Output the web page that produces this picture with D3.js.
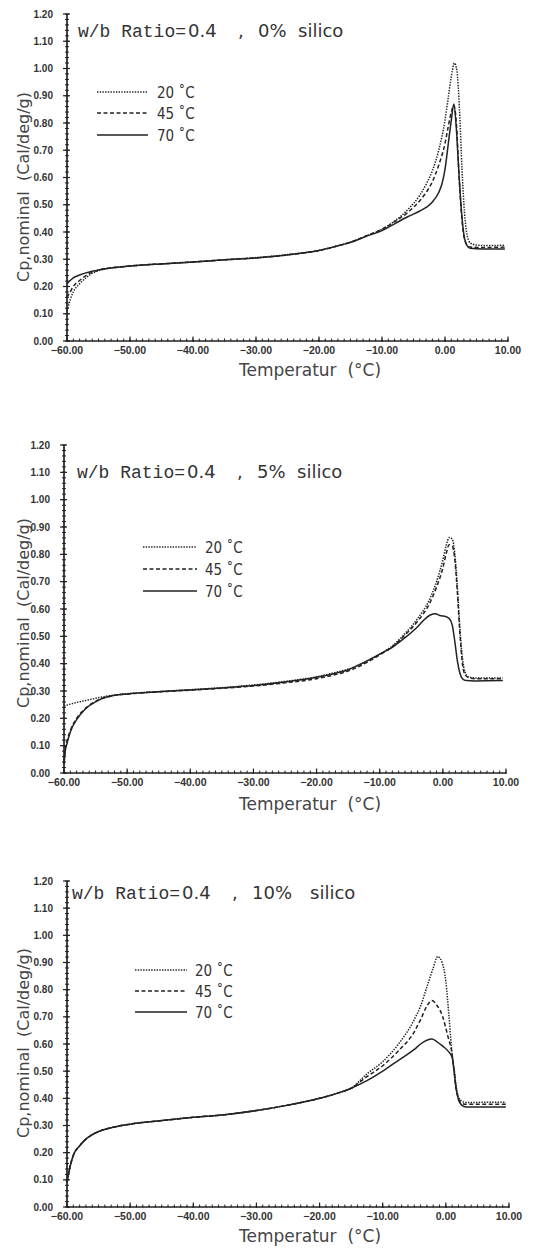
<!DOCTYPE html>
<html><head><meta charset="utf-8">
<script src="https://cdn.jsdelivr.net/npm/d3@7"></script>
<style>body{margin:0;background:#fff}svg{display:block}</style>
</head><body>
<svg id="c" width="544" height="1249"></svg>
<script>
// ---------- data ----------
const xTicks = [-60, -50, -40, -30, -20, -10, 0, 10];
const yTicks = [0, 0.1, 0.2, 0.3, 0.4, 0.5, 0.6, 0.7, 0.8, 0.9, 1.0, 1.1, 1.2];
const seriesLabels = ["20 ˚C", "45 ˚C", "70 ˚C"];
const silicaContent = ["0%", "5%", "10%"];
const wbRatio = "0.4";

// panel 1 : 0% silica  [temperature °C, Cp]
const p1_20 = [[-60,0.11],[-59.5,0.15],[-59,0.18],[-58,0.21],[-57,0.232],[-56,0.248],[-55,0.258],[-53,0.268],[-50,0.275],[-45,0.283],[-40,0.29],[-35,0.298],[-30,0.306],[-25,0.317],[-20,0.333],[-17,0.35],[-15,0.363],[-12.5,0.385],[-10,0.41],[-8,0.44],[-6,0.48],[-4,0.535],[-3,0.575],[-2,0.625],[-1,0.7],[0,0.81],[0.5,0.89],[1,0.97],[1.5,1.02],[1.9,0.99],[2.3,0.85],[2.7,0.63],[3.1,0.47],[3.5,0.39],[4,0.36],[5,0.352],[7,0.35],[9.5,0.352]];
const p1_45 = [[-60,0.16],[-59.5,0.18],[-59,0.2],[-58,0.222],[-57,0.24],[-56,0.252],[-55,0.26],[-53,0.268],[-50,0.275],[-45,0.283],[-40,0.29],[-35,0.298],[-30,0.305],[-25,0.316],[-20,0.332],[-17,0.349],[-15,0.362],[-12.5,0.386],[-10,0.41],[-8,0.438],[-6,0.47],[-4,0.515],[-3,0.545],[-2,0.585],[-1,0.645],[0,0.725],[0.5,0.785],[1,0.84],[1.4,0.865],[1.8,0.8],[2.2,0.62],[2.6,0.47],[3,0.385],[3.5,0.352],[4,0.345],[6,0.343],[9.5,0.345]];
const p1_70 = [[-60,0.21],[-59.5,0.222],[-59,0.232],[-58,0.242],[-57,0.25],[-56,0.256],[-55,0.261],[-53,0.268],[-50,0.275],[-45,0.283],[-40,0.29],[-35,0.298],[-30,0.305],[-25,0.316],[-20,0.332],[-17,0.349],[-15,0.362],[-12.5,0.384],[-10,0.405],[-8,0.43],[-6,0.455],[-4,0.477],[-3,0.49],[-2,0.51],[-1,0.545],[-0.5,0.575],[0,0.63],[0.5,0.72],[1,0.81],[1.4,0.87],[1.8,0.78],[2.2,0.62],[2.6,0.48],[3,0.39],[3.5,0.35],[4,0.34],[6,0.338],[9.5,0.338]];

// panel 2 : 5% silica
const p2_20 = [[-60,0.245],[-58,0.258],[-56,0.268],[-54,0.278],[-52,0.285],[-50,0.29],[-45,0.298],[-40,0.305],[-35,0.312],[-30,0.322],[-25,0.335],[-20,0.352],[-17,0.368],[-15,0.38],[-12,0.41],[-10,0.435],[-8,0.465],[-6,0.51],[-4,0.565],[-2,0.64],[-1,0.7],[0,0.78],[0.5,0.83],[1,0.862],[1.5,0.855],[1.9,0.8],[2.3,0.68],[2.7,0.53],[3.1,0.42],[3.5,0.37],[4,0.352],[5,0.348],[9.5,0.348]];
const p2_45 = [[-60,0.04],[-59.8,0.09],[-59.5,0.12],[-59,0.155],[-58,0.2],[-57,0.228],[-56,0.248],[-55,0.262],[-54,0.272],[-52,0.284],[-50,0.289],[-45,0.297],[-40,0.303],[-35,0.31],[-30,0.318],[-25,0.33],[-20,0.345],[-17,0.36],[-15,0.373],[-12,0.405],[-10,0.432],[-8,0.462],[-6,0.505],[-4,0.555],[-2,0.625],[-1,0.68],[0,0.75],[0.5,0.8],[1,0.835],[1.5,0.83],[1.9,0.78],[2.3,0.66],[2.7,0.51],[3.1,0.4],[3.5,0.36],[4,0.35],[5,0.345],[9.5,0.345]];
const p2_70 = [[-60,0.03],[-59.8,0.08],[-59.5,0.11],[-59,0.15],[-58,0.195],[-57,0.225],[-56,0.246],[-55,0.26],[-54,0.272],[-52,0.284],[-50,0.289],[-45,0.297],[-40,0.304],[-35,0.311],[-30,0.32],[-25,0.333],[-20,0.35],[-17,0.365],[-15,0.378],[-12,0.41],[-10,0.435],[-8,0.46],[-6,0.495],[-4,0.535],[-3,0.56],[-2,0.578],[-1.2,0.583],[-0.5,0.576],[0.5,0.572],[1,0.565],[1.5,0.54],[1.9,0.48],[2.3,0.41],[2.7,0.365],[3.1,0.345],[3.7,0.338],[5,0.337],[9.5,0.338]];

// panel 3 : 10% silica
const p3_20 = [[-60,0.09],[-59.5,0.15],[-59,0.19],[-58,0.225],[-57,0.25],[-56,0.266],[-55,0.278],[-53,0.292],[-50,0.305],[-45,0.318],[-40,0.33],[-35,0.34],[-30,0.355],[-25,0.375],[-20,0.4],[-17,0.42],[-15,0.437],[-12.5,0.49],[-10,0.535],[-7.5,0.6],[-5,0.69],[-4,0.74],[-3,0.81],[-2,0.88],[-1.3,0.922],[-0.6,0.9],[0,0.83],[0.5,0.7],[1,0.56],[1.3,0.51],[1.6,0.45],[2,0.405],[2.5,0.39],[3.2,0.385],[9.5,0.386]];
const p3_45 = [[-60,0.09],[-59.5,0.15],[-59,0.19],[-58,0.225],[-57,0.25],[-56,0.266],[-55,0.278],[-53,0.292],[-50,0.305],[-45,0.318],[-40,0.33],[-35,0.34],[-30,0.355],[-25,0.375],[-20,0.4],[-17,0.42],[-15,0.437],[-12.5,0.48],[-10,0.52],[-7.5,0.575],[-5,0.645],[-4,0.69],[-3,0.74],[-2.2,0.76],[-1.5,0.745],[-0.5,0.7],[0.3,0.63],[1,0.56],[1.3,0.5],[1.6,0.44],[2,0.4],[2.5,0.382],[3.2,0.378],[9.5,0.378]];
const p3_70 = [[-60,0.09],[-59.5,0.15],[-59,0.19],[-58,0.225],[-57,0.25],[-56,0.266],[-55,0.278],[-53,0.292],[-50,0.305],[-45,0.318],[-40,0.33],[-35,0.34],[-30,0.355],[-25,0.375],[-20,0.4],[-17,0.42],[-15,0.437],[-12.5,0.465],[-10,0.5],[-7.5,0.54],[-5,0.58],[-4,0.6],[-3,0.614],[-2.2,0.618],[-1.5,0.61],[-0.5,0.592],[0.5,0.57],[1,0.55],[1.3,0.5],[1.6,0.44],[2,0.395],[2.5,0.375],[3.2,0.368],[9.5,0.368]];

const panelSeries = [[p1_20, p1_45, p1_70], [p2_20, p2_45, p2_70], [p3_20, p3_45, p3_70]];

// ---------- layout / style ----------
const dashes = ["1.4,1.3", "4,2.5", null];
const ink = "#222";
const layouts = [
  {x0:67, x1:508, yb:341, yt:14, tx:78, ty:37, lx0:97, lx1:148, ltx:157, ly:[92,113,135], ylx:23, yly:187, xly:376},
  {x0:64, x1:506, yb:773, yt:445, tx:77, ty:478, lx0:143, lx1:197, ltx:205, ly:[547,569,591], ylx:23, yly:613, xly:810},
  {x0:67, x1:509, yb:1207, yt:881, tx:72, ty:899, lx0:135, lx1:187, ltx:195, ly:[970,991,1012], ylx:23, yly:1043, xly:1242}
];
const svg = d3.select("#c");
const fmt = d3.format(".2f");

layouts.forEach((L, pi) => {
  const g = svg.append("g");
  const x = d3.scaleLinear().domain([xTicks[0], xTicks[xTicks.length-1]]).range([L.x0, L.x1]);
  const y = d3.scaleLinear().domain([yTicks[0], yTicks[yTicks.length-1]]).range([L.yb, L.yt]);

  // axis lines
  g.append("line").attr("x1", x.range()[0]).attr("x2", x.range()[1]).attr("y1", y(0)).attr("y2", y(0))
    .attr("stroke", ink).attr("stroke-width", 1.7);
  g.append("line").attr("x1", x(-60)).attr("x2", x(-60)).attr("y1", y.range()[0]).attr("y2", y.range()[1])
    .attr("stroke", ink).attr("stroke-width", 1.7);

  // minor ticks
  const xMinor = d3.range(-60, 10.001, 1);
  const yMinor = d3.range(0, 1.2001, 0.02);
  g.append("g").selectAll("line").data(xMinor).join("line")
    .attr("x1", d => x(d)).attr("x2", d => x(d)).attr("y1", y(0) - 2.5).attr("y2", y(0) + 0.5)
    .attr("stroke", ink).attr("stroke-width", 1);
  g.append("g").selectAll("line").data(yMinor).join("line")
    .attr("x1", x(-60) - 2).attr("x2", x(-60) + 2).attr("y1", d => y(d)).attr("y2", d => y(d))
    .attr("stroke", ink).attr("stroke-width", 1);
  // major ticks
  g.append("g").selectAll("line").data(xTicks).join("line")
    .attr("x1", d => x(d)).attr("x2", d => x(d)).attr("y1", y(0) - 4.5).attr("y2", y(0) + 1)
    .attr("stroke", ink).attr("stroke-width", 1.2);
  g.append("g").selectAll("line").data(yTicks).join("line")
    .attr("x1", x(-60) - 4).attr("x2", x(-60) + 3).attr("y1", d => y(d)).attr("y2", d => y(d))
    .attr("stroke", ink).attr("stroke-width", 1.2);

  // tick labels
  g.append("g").selectAll("text").data(xTicks).join("text")
    .attr("x", d => x(d)).attr("y", y(0) + 13).attr("text-anchor", "middle")
    .attr("font-family", "Liberation Sans, Arial, sans-serif").attr("font-weight", "bold")
    .attr("font-size", 10.5).attr("fill", "#333").text(d => fmt(d));
  g.append("g").selectAll("text").data(yTicks).join("text")
    .attr("x", x(-60) - 14).attr("y", d => y(d) + 3.5).attr("text-anchor", "end")
    .attr("font-family", "Liberation Sans, Arial, sans-serif").attr("font-weight", "bold")
    .attr("font-size", 10).attr("fill", "#333").text(d => fmt(d));

  // axis titles
  g.append("text").attr("transform", `translate(${L.ylx},${L.yly}) rotate(-90)`)
    .attr("text-anchor", "middle").attr("dy", "0.35em")
    .attr("font-family", "DejaVu Sans, sans-serif").attr("font-size", 16).attr("fill", "#444")
    .style("white-space", "pre")
    .text("Cp,nominal  (Cal/deg/g)");
  g.append("text").attr("x", 310).attr("y", L.xly).attr("text-anchor", "middle")
    .attr("font-family", "DejaVu Sans, sans-serif").attr("font-size", 17).attr("fill", "#444")
    .style("white-space", "pre").text("Temperatur  (°C)");

  // title
  const t = g.append("text").attr("y", L.ty).attr("fill", "#333").attr("font-size", 18);
  t.append("tspan").attr("x", L.tx).attr("font-family", "Liberation Mono, monospace").text("w/b Ratio=");
  t.append("tspan").attr("x", L.tx + 110).attr("font-family", "DejaVu Sans, sans-serif").text(wbRatio);
  t.append("tspan").attr("x", L.tx + 160).attr("font-family", "DejaVu Sans, sans-serif").text(",");
  t.append("tspan").attr("x", L.tx + 180).attr("font-family", "DejaVu Sans, sans-serif").text(silicaContent[pi]);
  t.append("tspan").attr("x", L.tx + (pi === 2 ? 238 : 220)).attr("font-family", "DejaVu Sans, sans-serif").text("silico");

  // curves
  const line = d3.line().x(d => x(d[0])).y(d => y(d[1])).curve(d3.curveMonotoneX);
  panelSeries[pi].forEach((s, si) => {
    g.append("path").datum(s).attr("d", line).attr("fill", "none")
      .attr("stroke", ink).attr("stroke-width", 1.5)
      .attr("stroke-dasharray", dashes[si]);
  });

  // legend
  seriesLabels.forEach((lab, si) => {
    g.append("line").attr("x1", L.lx0).attr("x2", L.lx1).attr("y1", L.ly[si]).attr("y2", L.ly[si])
      .attr("stroke", ink).attr("stroke-width", 1.5).attr("stroke-dasharray", dashes[si]);
    g.append("text").attr("x", L.ltx).attr("y", L.ly[si] + 5.5)
      .attr("font-family", "DejaVu Sans Condensed, DejaVu Sans, sans-serif").attr("font-size", 15)
      .attr("fill", "#333").text(lab);
  });
});
</script>
</body></html>
